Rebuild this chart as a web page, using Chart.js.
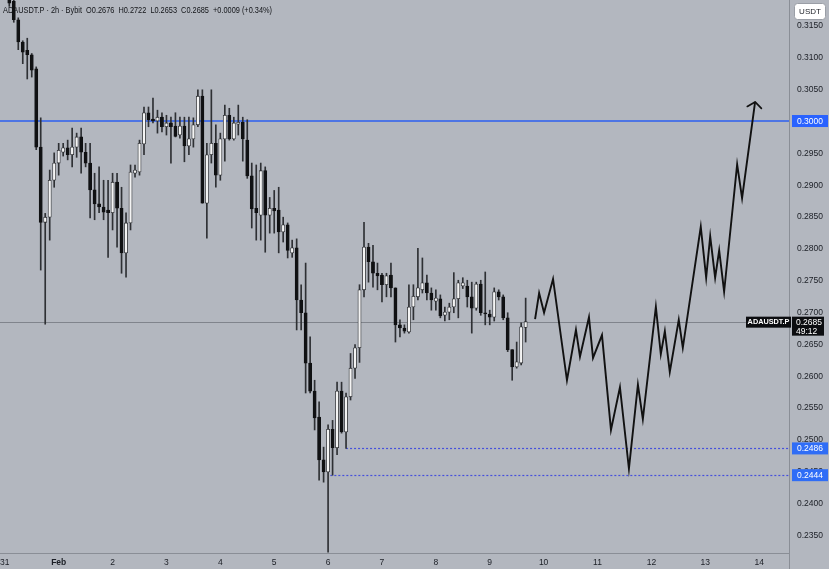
<!DOCTYPE html>
<html><head><meta charset="utf-8">
<script src="https://cdn.jsdelivr.net/npm/chart.js@4.4.1/dist/chart.umd.min.js"></script>
<style>html,body{margin:0;padding:0;background:#b3b7bf;overflow:hidden}canvas{display:block}</style>
</head><body>
<canvas id="c" width="829" height="569"></canvas>
<script>
// 2h candles, index 0 = Jan 31 02:00
const opens = [0.3195,0.3188,0.3159,0.3124,0.3111,0.3104,0.3082,0.2959,0.2841,0.2849,
0.2907,0.2934,0.2951,0.2958,0.2947,0.2959,0.2975,0.2951,0.2934,0.2892,
0.2870,0.2865,0.2860,0.2856,0.2904,0.2863,0.2793,0.2840,0.2918,0.2920,
0.2964,0.3013,0.3003,0.3000,0.3006,0.2991,0.2997,0.2992,0.2978,0.2992,
0.2961,0.2972,0.2994,0.3039,0.2871,0.2947,0.2965,0.2915,0.2972,0.3009,
0.2972,0.2995,0.2998,0.2970,0.2914,0.2863,0.2852,0.2922,0.2852,0.2863,
0.2860,0.2826,0.2837,0.2793,0.2801,0.2719,0.2699,0.2620,0.2576,0.2535,
0.2468,0.2449,0.2516,0.2487,0.2576,0.2512,0.2567,0.2612,0.2644,0.2735,
0.2802,0.2779,0.2761,0.2758,0.2743,0.2758,0.2738,0.2680,0.2675,0.2669,
0.2708,0.2724,0.2735,0.2746,0.2730,0.2717,0.2721,0.2695,0.2700,0.2708,
0.2721,0.2741,0.2741,0.2724,0.2706,0.2744,0.2699,0.2697,0.2692,0.2732,
0.2724,0.2691,0.2641,0.2614,0.2620,0.2676];
const highs = [0.3205,0.3200,0.3162,0.3126,0.3130,0.3106,0.3085,0.3005,0.2855,0.2923,
0.2950,0.2965,0.2965,0.2970,0.2989,0.2981,0.2989,0.2965,0.2965,0.2918,
0.2928,0.2907,0.2907,0.2918,0.2918,0.2896,0.2856,0.2931,0.2931,0.2970,
0.3022,0.3022,0.3036,0.3017,0.3013,0.3009,0.3006,0.3013,0.3006,0.3006,
0.3006,0.3005,0.3049,0.3049,0.2965,0.3049,0.2994,0.2981,0.3025,0.3020,
0.3006,0.3025,0.3006,0.3002,0.2934,0.2931,0.2934,0.2928,0.2880,0.2891,
0.2896,0.2849,0.2840,0.2813,0.2815,0.2743,0.2777,0.2661,0.2593,0.2559,
0.2488,0.2523,0.2530,0.2590,0.2590,0.2573,0.2635,0.2649,0.2743,0.2841,
0.2808,0.2805,0.2777,0.2761,0.2761,0.2777,0.2738,0.2688,0.2680,0.2743,
0.2743,0.2800,0.2785,0.2758,0.2738,0.2735,0.2727,0.2708,0.2714,0.2762,
0.2750,0.2754,0.2750,0.2747,0.2747,0.2750,0.2763,0.2703,0.2738,0.2735,
0.2727,0.2699,0.2641,0.2653,0.2683,0.2722];
const lows = [0.3180,0.3155,0.3112,0.3090,0.3066,0.3069,0.2955,0.2766,0.2681,0.2813,
0.2896,0.2915,0.2945,0.2939,0.2928,0.2943,0.2918,0.2928,0.2848,0.2845,
0.2856,0.2845,0.2786,0.2829,0.2802,0.2761,0.2755,0.2829,0.2912,0.2915,
0.2947,0.2991,0.2997,0.2981,0.2983,0.2978,0.2934,0.2975,0.2973,0.2936,
0.2947,0.2959,0.2991,0.2871,0.2816,0.2934,0.2896,0.2907,0.2937,0.2970,
0.2970,0.2978,0.2937,0.2910,0.2832,0.2813,0.2813,0.2794,0.2824,0.2824,
0.2793,0.2810,0.2785,0.2786,0.2672,0.2672,0.2573,0.2573,0.2515,0.2436,
0.2433,0.2323,0.2444,0.2476,0.2510,0.2486,0.2562,0.2596,0.2621,0.2724,
0.2747,0.2739,0.2735,0.2716,0.2724,0.2724,0.2653,0.2661,0.2667,0.2667,
0.2688,0.2719,0.2730,0.2719,0.2703,0.2703,0.2691,0.2686,0.2688,0.2699,
0.2691,0.2737,0.2708,0.2667,0.2703,0.2695,0.2680,0.2680,0.2686,0.2719,
0.2688,0.2638,0.2593,0.2612,0.2617,0.2653];
const closes = [0.3185,0.3159,0.3124,0.3108,0.3104,0.3080,0.2959,0.2841,0.2849,0.2907,
0.2934,0.2954,0.2958,0.2947,0.2959,0.2975,0.2951,0.2934,0.2892,0.2870,
0.2865,0.2857,0.2856,0.2904,0.2863,0.2793,0.2840,0.2920,0.2923,0.2965,
0.3013,0.3002,0.3000,0.3006,0.2991,0.2997,0.2991,0.2976,0.2992,0.2961,
0.2972,0.2994,0.3039,0.2871,0.2947,0.2965,0.2915,0.2972,0.3009,0.2972,
0.2997,0.2998,0.2972,0.2914,0.2862,0.2856,0.2922,0.2852,0.2863,0.2859,
0.2826,0.2837,0.2797,0.2801,0.2719,0.2699,0.2620,0.2576,0.2534,0.2468,
0.2449,0.2516,0.2487,0.2576,0.2512,0.2567,0.2612,0.2644,0.2735,0.2802,
0.2779,0.2761,0.2757,0.2743,0.2757,0.2738,0.2680,0.2675,0.2670,0.2708,
0.2725,0.2738,0.2746,0.2730,0.2719,0.2722,0.2694,0.2700,0.2708,0.2721,
0.2746,0.2746,0.2724,0.2706,0.2744,0.2699,0.2697,0.2692,0.2732,0.2724,
0.2691,0.2641,0.2614,0.2622,0.2677,0.2685];

// Drawn forecast path (candle-index units, price)
const forecastIndex = [117.1,118.0,119.1,121.1,124.2,126.2,127.1,129.1,130.0,132.0,134.0,136.0,138.0,140.0,141.1,144.0,145.1,146.0,147.1,149.1,150.0,154.0,155.2,156.1,157.2,158.1,159.2,162.1,163.2,166.1];
const forecastPrice = [0.2689,0.2730,0.2699,0.2752,0.2593,0.2672,0.2630,0.2692,0.2628,0.2664,0.2515,0.2582,0.2454,0.2586,0.2532,0.2708,0.2634,0.2670,0.2606,0.2688,0.2644,0.2834,0.2754,0.2819,0.2754,0.2797,0.2732,0.2932,0.2879,0.3030];

// Axes
const dayTickIndex = [-1,11,23,35,47,59,71,83,95,107,119,131,143,155,167];
const dayLabels = ['31','Feb','2','3','4','5','6','7','8','9','10','11','12','13','14'];
const priceTicks = [0.2350,0.2400,0.2450,0.2500,0.2550,0.2600,0.2650,0.2700,0.2750,0.2800,0.2850,0.2900,0.2950,0.3000,0.3050,0.3100,0.3150];

// Levels
const resistanceLevel = 0.3000;
const supportLevels = [0.2486, 0.2444];
const supportStartIndex = [75, 71.5];
const lastPrice = 0.2685;
const headerText = 'ADAUSDT.P · 2h · Bybit  O0.2676  H0.2722  L0.2653  C0.2685  +0.0009 (+0.34%)';

const BG = '#b3b7bf';
const FONT = '"Liberation Sans", Arial, sans-serif';
const TXT = '#1b1e25';

const bodyData = opens.map((o,i)=>({x:i, y:[o, closes[i]]}));
const wickData = opens.map((o,i)=>({x:i, y:[lows[i], highs[i]]}));
const isUp = opens.map((o,i)=>closes[i] >= o);
const forecastData = forecastIndex.map((x,i)=>({x, y:forecastPrice[i]}));

const overlay = {
  id:'overlay',
  beforeDraw(chart){
    const c = chart.ctx; c.save(); c.fillStyle = BG; c.fillRect(0,0,chart.width,chart.height); c.restore();
  },
  beforeDatasetsDraw(chart){
    const c = chart.ctx, ca = chart.chartArea, xs = chart.scales.x, ys = chart.scales.y;
    c.save();
    // header (fitted to the reference width)
    c.fillStyle = '#121418'; c.font = '9px ' + FONT; c.textBaseline = 'middle'; c.textAlign='left';
    const w = c.measureText(headerText).width, target = 269;
    c.save(); c.translate(3, 10.5); c.scale(Math.min(1, target/w), 1); c.fillText(headerText, 0, 0); c.restore();
    // last price line
    let y = Math.round(ys.getPixelForValue(lastPrice)) + 0.5;
    c.strokeStyle = '#80848c'; c.lineWidth = 1;
    c.beginPath(); c.moveTo(ca.left, y); c.lineTo(ca.right, y); c.stroke();
    // support dotted lines
    c.strokeStyle = '#4650dc'; c.lineWidth = 1.2; c.setLineDash([2,2]);
    supportLevels.forEach((lv,k)=>{
      const yy = Math.round(ys.getPixelForValue(lv)) + 0.5;
      c.beginPath(); c.moveTo(xs.getPixelForValue(supportStartIndex[k]), yy); c.lineTo(ca.right, yy); c.stroke();
    });
    c.setLineDash([]);
    // resistance
    y = ys.getPixelForValue(resistanceLevel);
    c.strokeStyle = '#2d5ff0'; c.lineWidth = 1.6;
    c.beginPath(); c.moveTo(ca.left, y); c.lineTo(ca.right, y); c.stroke();
    c.restore();
  },
  afterDatasetsDraw(chart){
    const c = chart.ctx;
    const meta = chart.getDatasetMeta(2);
    const pts = meta.data; const n = pts.length;
    const tip = pts[n-1], prev = pts[n-2];
    const ang = Math.atan2(prev.y - tip.y, prev.x - tip.x);
    const L = 9, spread = 52*Math.PI/180;
    c.save(); c.strokeStyle = '#111'; c.lineWidth = 1.7; c.lineCap='round'; c.lineJoin='round';
    c.beginPath();
    c.moveTo(tip.x + L*Math.cos(ang+spread), tip.y + L*Math.sin(ang+spread));
    c.lineTo(tip.x, tip.y);
    c.lineTo(tip.x + L*Math.cos(ang-spread), tip.y + L*Math.sin(ang-spread));
    c.stroke(); c.restore();
  },
  afterDraw(chart){
    const c = chart.ctx, ca = chart.chartArea, ys = chart.scales.y, xs = chart.scales.x;
    c.save();
    // y-axis line continues through time axis
    c.strokeStyle = '#8a8e96'; c.lineWidth = 1;
    c.beginPath(); c.moveTo(ca.right+0.5, ca.bottom); c.lineTo(ca.right+0.5, chart.height); c.stroke();
    // axis labels from the scales' ticks
    c.fillStyle = TXT; c.font = '8.5px ' + FONT; c.textBaseline='middle'; c.textAlign='left';
    ys.ticks.forEach(t=>{ c.fillText(Number(t.value).toFixed(4), ca.right + 8, ys.getPixelForValue(t.value) + 0.5); });
    c.textAlign='center';
    xs.ticks.forEach((t,i)=>{
      c.font = (dayLabels[i]==='Feb' ? 'bold ' : '') + '8.5px ' + FONT;
      c.fillText(dayLabels[i], xs.getPixelForValue(t.value), ca.bottom + 9.5);
    });
    c.font = '8.5px ' + FONT; c.textAlign='left';
    const bx = ca.right + 3, bw = 36;
    const box = (val, color) => {
      const y = ys.getPixelForValue(val);
      c.fillStyle = color; c.fillRect(bx, y-6, bw, 12);
      c.fillStyle = '#ffffff'; c.fillText(val.toFixed(4), ca.right + 8, y+0.5);
    };
    box(resistanceLevel, '#2962ff');
    supportLevels.forEach(v=>box(v, '#2f6df6'));
    // last price labels
    const yl = ys.getPixelForValue(lastPrice);
    c.fillStyle = '#0c0d10';
    c.fillRect(ca.right-43, yl-5, 45, 11);
    c.fillRect(bx, yl-5, 32, 19);
    c.fillStyle = '#ffffff';
    c.font = 'bold 7.3px ' + FONT; c.textAlign='center';
    c.fillText('ADAUSDT.P', ca.right-20.5, yl+0.8);
    c.font = '8.5px ' + FONT; c.textAlign='left';
    c.fillText(lastPrice.toFixed(4), ca.right + 7, yl+1);
    c.fillText('49:12', ca.right + 7, yl+9.5);
    // USDT box
    c.fillStyle = '#ffffff'; c.strokeStyle = '#9a9ea6';
    c.beginPath();
    if (c.roundRect) c.roundRect(ca.right+5.5, 3.5, 31, 16, 3); else c.rect(ca.right+5.5, 3.5, 31, 16);
    c.fill(); c.stroke();
    c.fillStyle = TXT; c.font = '8px ' + FONT; c.textAlign='center';
    c.fillText('USDT', ca.right+21, 12);
    c.restore();
  }
};

new Chart(document.getElementById('c'), {
  type:'bar',
  data:{ datasets:[
    { type:'bar', data:wickData, grouped:false, barThickness:1, backgroundColor:'#2e3034', borderWidth:0, order:3 },
    { type:'bar', data:bodyData, grouped:false, barThickness:3.2, minBarLength:1,
      backgroundColor: isUp.map(u=>u?'#f4f4f4':'#101113'),
      borderColor: isUp.map(u=>u?'#2b2d31':'#101113'),
      borderWidth:0.8, borderSkipped:false, order:2 },
    { type:'line', data:forecastData, borderColor:'#111111', borderWidth:1.9, pointRadius:0, tension:0, fill:false, order:1 }
  ]},
  options:{
    responsive:false, animation:false, events:[],
    layout:{ padding:0, autoPadding:false },
    plugins:{ legend:{display:false}, tooltip:{enabled:false} },
    scales:{
      x:{ type:'linear', min:-2.07, max:173.65, offset:false,
        grid:{display:false}, border:{display:true, color:'#8a8e96', width:1},
        afterFit(s){ s.height = 16; s.paddingLeft = 0; s.paddingRight = 0; },
        afterBuildTicks(s){ s.ticks = dayTickIndex.map(v=>({value:v})); },
        ticks:{ display:false }
      },
      y:{ type:'linear', position:'right', min:0.23218, max:0.3190,
        grid:{display:false}, border:{display:true, color:'#8a8e96', width:1},
        afterFit(s){ s.width = 40; s.paddingTop = 0; s.paddingBottom = 0; },
        afterBuildTicks(s){ s.ticks = priceTicks.map(v=>({value:v})); },
        ticks:{ display:false }
      }
    }
  },
  plugins:[overlay]
});
</script>
</body></html>
